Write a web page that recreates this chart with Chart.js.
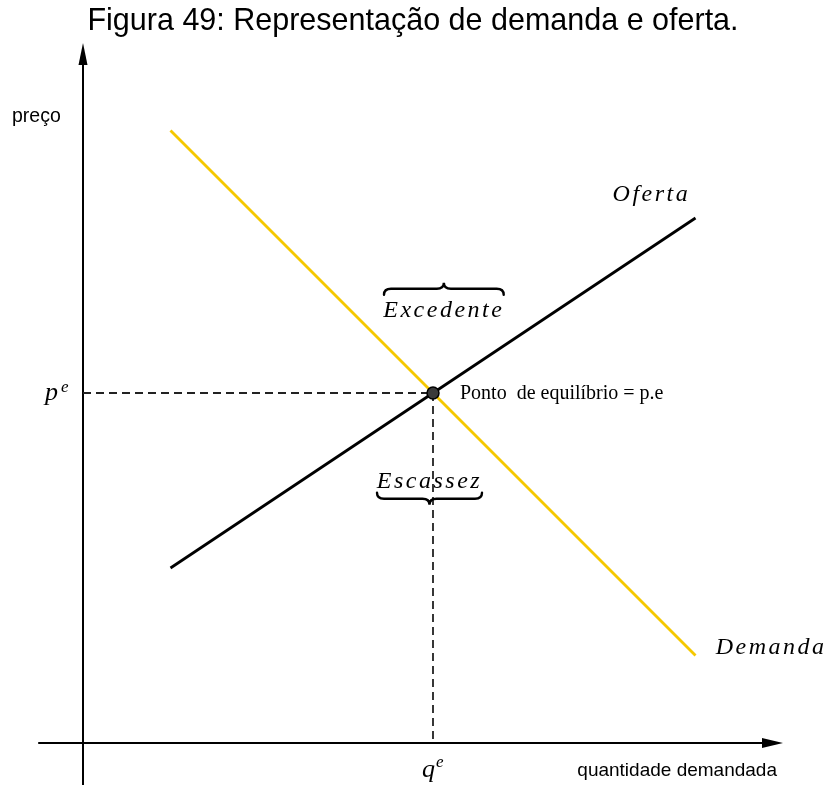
<!DOCTYPE html>
<html>
<head>
<meta charset="utf-8">
<script src="https://cdn.jsdelivr.net/npm/chart.js@4.4.1/dist/chart.umd.min.js"></script>
<style>
html, body { margin: 0; padding: 0; background: #fff; }
canvas { display: block; }
</style>
</head>
<body>
<canvas id="chartCanvas" width="826" height="785"></canvas>
<script>
// Chart data, in axis units (both axes run 0..10)

var quantities = [1.25, 8.75]
var demandPrices = [8.75, 1.25]
var supplyPrices = [2.5, 7.5]
var equilibrium = [5, 5]      // q^e, p^e
var xAxisRange = [-0.64, 10]
var yAxisRange = [-0.6, 10]

// labels on the plot
var curveLabels = ['Oferta', 'Demanda']
var curveLabelPos = [[8.12, 7.84], [9.83, 1.36]]
var braceLabels = ['Excedente', 'Escassez']
var braceSpans = [[4.3, 6.01], [4.2, 5.7]]
var braceLevels = [6.49, 3.49]
var braceLabelLevels = [6.17, 3.73]
var pointLabel = 'Ponto  de equilíbrio = p.e'

var title = 'Figura 49: Representação de demanda e oferta.'
var yTitle = 'preço'
var xTitle = 'quantidade demandada'

var yellow = '#f5c800'
var mathFont = 'italic 24px "Liberation Serif"'

function toPoints(xs, ys) {
    return xs.map(function(x, i) { return {x: x, y: ys[i]} })
}

function drawBrace(ctx, x1, x2, y, dir) {
    // dir -1: tip up, 1: tip down
    var h = 6, r = 7
    var xm = (x1 + x2) / 2
    ctx.beginPath()
    ctx.moveTo(x1, y - dir * h)
    ctx.quadraticCurveTo(x1, y, x1 + r, y)
    ctx.lineTo(xm - r, y)
    ctx.quadraticCurveTo(xm, y, xm, y + dir * h)
    ctx.quadraticCurveTo(xm, y, xm + r, y)
    ctx.lineTo(x2 - r, y)
    ctx.quadraticCurveTo(x2, y, x2, y - dir * h)
    ctx.stroke()
}

// arrows, braces and all text
var annotations = {
    id: 'annotations',
    afterDatasetsDraw: function(chart) {
        var ctx = chart.ctx
        var sx = chart.scales.x, sy = chart.scales.y
        var x0 = sx.getPixelForValue(0), y0 = sy.getPixelForValue(0)
        var xTip = sx.getPixelForValue(xAxisRange[1])
        var yTip = sy.getPixelForValue(yAxisRange[1])
        ctx.save()
        ctx.fillStyle = '#000'
        ctx.strokeStyle = '#000'

        // arrow heads
        ctx.beginPath()
        ctx.moveTo(xTip, y0)
        ctx.lineTo(xTip - 21, y0 - 5)
        ctx.lineTo(xTip - 21, y0 + 5)
        ctx.closePath()
        ctx.fill()
        ctx.beginPath()
        ctx.moveTo(x0, yTip)
        ctx.lineTo(x0 - 4.5, yTip + 22)
        ctx.lineTo(x0 + 4.5, yTip + 22)
        ctx.closePath()
        ctx.fill()

        // braces
        ctx.lineWidth = 2.4
        ctx.lineCap = 'round'
        braceSpans.forEach(function(span, i) {
            drawBrace(ctx, sx.getPixelForValue(span[0]), sx.getPixelForValue(span[1]),
                sy.getPixelForValue(braceLevels[i]), i === 0 ? -1 : 1)
        })

        // title and axis titles
        ctx.textBaseline = 'middle'
        ctx.textAlign = 'center'
        ctx.font = '30.5px "Liberation Sans"'
        ctx.fillText(title, 413, 22)
        ctx.textAlign = 'left'
        ctx.font = '19.5px "Liberation Sans"'
        ctx.fillText(yTitle, 12, 117)
        ctx.textAlign = 'right'
        ctx.font = '19px "Liberation Sans"'
        ctx.fillText(xTitle, xTip - 6, 771)

        // curve and brace labels
        ctx.textAlign = 'center'
        ctx.font = mathFont
        ctx.letterSpacing = '2.5px'
        curveLabels.forEach(function(t, i) {
            ctx.fillText(t, sx.getPixelForValue(curveLabelPos[i][0]), sy.getPixelForValue(curveLabelPos[i][1]))
        })
        braceLabels.forEach(function(t, i) {
            var s = braceSpans[i]
            ctx.fillText(t, sx.getPixelForValue((s[0] + s[1]) / 2), sy.getPixelForValue(braceLabelLevels[i]))
        })
        ctx.letterSpacing = '0px'

        // equilibrium label
        var qx = sx.getPixelForValue(equilibrium[0])
        var py = sy.getPixelForValue(equilibrium[1])
        ctx.textAlign = 'left'
        ctx.font = '20px "Liberation Serif"'
        ctx.fillText(pointLabel, qx + 27, py + 1)

        // p^e and q^e
        ctx.textBaseline = 'alphabetic'
        ctx.font = 'italic 26px "Liberation Serif"'
        ctx.fillText('p', x0 - 38, py + 7)
        ctx.fillText('q', qx - 11, y0 + 34)
        ctx.font = 'italic 17px "Liberation Serif"'
        ctx.fillText('e', x0 - 22, py - 1)
        ctx.fillText('e', qx + 3, y0 + 24)
        ctx.restore()
    }
}

var canvas = document.getElementById('chartCanvas')
var ctx = canvas.getContext('2d')

var chart = new Chart(ctx, {
    type: 'scatter',
    data: {
        datasets: [{
            // equilibrium point, on top
            data: [{x: equilibrium[0], y: equilibrium[1]}],
            pointRadius: 6,
            backgroundColor: '#3a3a3a',
            borderColor: '#000',
            borderWidth: 1.5
        }, {
            data: toPoints(quantities, demandPrices),
            showLine: true,
            borderColor: yellow,
            borderWidth: 2.8,
            pointRadius: 0
        }, {
            data: toPoints(quantities, supplyPrices),
            showLine: true,
            borderColor: '#000',
            borderWidth: 2.8,
            pointRadius: 0
        }, {
            data: [{x: 0, y: equilibrium[1]}, {x: equilibrium[0], y: equilibrium[1]}],
            showLine: true,
            borderColor: '#222',
            borderWidth: 1.8,
            borderDash: [8, 5],
            pointRadius: 0
        }, {
            data: [{x: equilibrium[0], y: equilibrium[1]}, {x: equilibrium[0], y: 0}],
            showLine: true,
            borderColor: '#222',
            borderWidth: 1.8,
            borderDash: [8, 5],
            pointRadius: 0
        }, {
            // x axis
            data: [{x: xAxisRange[0], y: 0}, {x: xAxisRange[1] - 0.3, y: 0}],
            showLine: true,
            borderColor: '#000',
            borderWidth: 2.2,
            pointRadius: 0,
            clip: false
        }, {
            // y axis
            data: [{x: 0, y: yAxisRange[0]}, {x: 0, y: yAxisRange[1] - 0.3}],
            showLine: true,
            borderColor: '#000',
            borderWidth: 2,
            pointRadius: 0,
            clip: false
        }]
    },
    options: {
        responsive: false,
        animation: false,
        layout: { padding: { left: 83, right: 43, top: 43, bottom: 42 } },
        scales: {
            x: { type: 'linear', min: 0, max: 10, display: false },
            y: { type: 'linear', min: 0, max: 10, display: false }
        },
        plugins: {
            legend: { display: false },
            tooltip: { enabled: false }
        }
    },
    plugins: [annotations]
})
</script>
</body>
</html>
